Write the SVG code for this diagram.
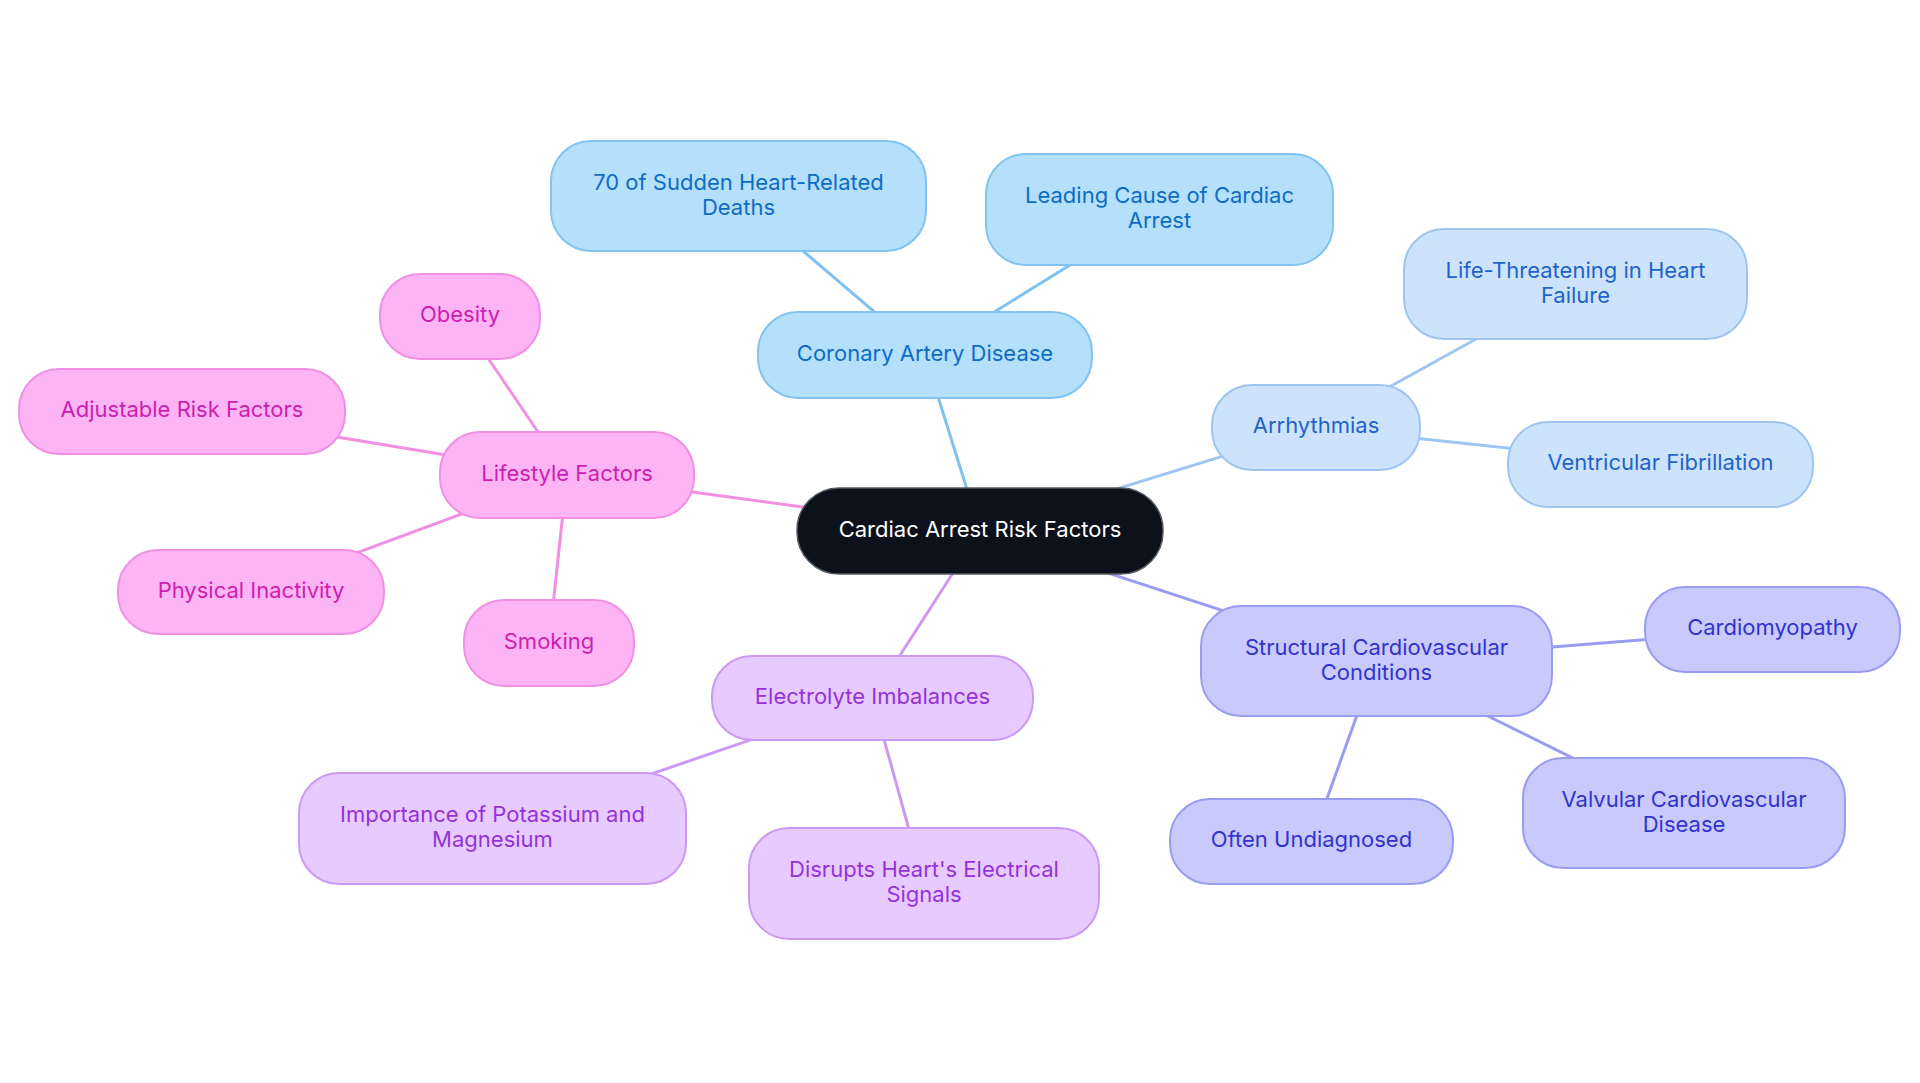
<svg xmlns="http://www.w3.org/2000/svg" width="1920" height="1083" viewBox="0 0 1920 1083">
<style>
text{font-family:Inter,"Noto Sans",sans-serif;font-size:22px;text-anchor:middle}
.e{stroke-width:3;fill:none}
.blue rect{fill:#b4e0fc;stroke:#82c3f0;stroke-width:2}
.blue text{fill:#0f6cc4}
.lblue rect{fill:#cde3fb;stroke:#9ec5f1;stroke-width:2}
.lblue text{fill:#1f63c9}
.indigo rect{fill:#c8cafc;stroke:#9a9cf2;stroke-width:2}
.indigo text{fill:#3333cc}
.violet rect{fill:#e7caff;stroke:#cc99f2;stroke-width:2}
.violet text{fill:#9333d9}
.pink rect{fill:#fdb4f4;stroke:#f090e2;stroke-width:2}
.pink text{fill:#cc1fb0}
.root rect{fill:#0c111b;stroke:#555a60;stroke-width:1.5}
.root text{fill:#ffffff}
</style>
<rect width="1920" height="1083" fill="#ffffff"/>
<g id="connectors">
<line class="e" stroke="#7fc1ef" x1="980" y1="531" x2="925" y2="355"/>
<line class="e" stroke="#7fc1ef" x1="925" y1="355" x2="738.5" y2="196"/>
<line class="e" stroke="#7fc1ef" x1="925" y1="355" x2="1159.5" y2="209.5"/>
<line class="e" stroke="#9ec5f1" x1="980" y1="531" x2="1316" y2="427.5"/>
<line class="e" stroke="#9ec5f1" x1="1316" y1="427.5" x2="1575.5" y2="284"/>
<line class="e" stroke="#9ec5f1" x1="1316" y1="427.5" x2="1660.5" y2="464.5"/>
<line class="e" stroke="#9a9cf2" x1="980" y1="531" x2="1376.5" y2="661"/>
<line class="e" stroke="#9a9cf2" x1="1376.5" y1="661" x2="1772.5" y2="629.5"/>
<line class="e" stroke="#9a9cf2" x1="1376.5" y1="661" x2="1684" y2="813"/>
<line class="e" stroke="#9a9cf2" x1="1376.5" y1="661" x2="1311.5" y2="841.5"/>
<line class="e" stroke="#cc99f2" x1="980" y1="531" x2="872.5" y2="698"/>
<line class="e" stroke="#cc99f2" x1="872.5" y1="698" x2="492.5" y2="828.5"/>
<line class="e" stroke="#cc99f2" x1="872.5" y1="698" x2="924" y2="883.5"/>
<line class="e" stroke="#f090e2" x1="980" y1="531" x2="567" y2="475"/>
<line class="e" stroke="#f090e2" x1="567" y1="475" x2="460" y2="316.5"/>
<line class="e" stroke="#f090e2" x1="567" y1="475" x2="182" y2="411.5"/>
<line class="e" stroke="#f090e2" x1="567" y1="475" x2="251" y2="592"/>
<line class="e" stroke="#f090e2" x1="567" y1="475" x2="549" y2="643"/>
</g>
<g id="root" class="root"><rect x="797" y="488" width="366" height="86" rx="42"/><text x="980" y="536.5">Cardiac Arrest Risk Factors</text></g>
<g id="cad" class="blue"><rect x="758" y="312" width="334" height="86" rx="40"/><text x="925" y="360.5">Coronary Artery Disease</text></g>
<g id="deaths" class="blue"><rect x="551" y="141" width="375" height="110" rx="40"/><text x="738.5" y="190">70 of Sudden Heart-Related</text><text x="738.5" y="215">Deaths</text></g>
<g id="leading" class="blue"><rect x="986" y="154" width="347" height="111" rx="40"/><text x="1159.5" y="202.5">Leading Cause of Cardiac</text><text x="1159.5" y="227.5">Arrest</text></g>
<g id="arr" class="lblue"><rect x="1212" y="385" width="208" height="85" rx="40"/><text x="1316" y="433">Arrhythmias</text></g>
<g id="lifethr" class="lblue"><rect x="1404" y="229" width="343" height="110" rx="40"/><text x="1575.5" y="278">Life-Threatening in Heart</text><text x="1575.5" y="303">Failure</text></g>
<g id="vf" class="lblue"><rect x="1508" y="422" width="305" height="85" rx="40"/><text x="1660.5" y="470">Ventricular Fibrillation</text></g>
<g id="struct" class="indigo"><rect x="1201" y="606" width="351" height="110" rx="40"/><text x="1376.5" y="655">Structural Cardiovascular</text><text x="1376.5" y="680">Conditions</text></g>
<g id="cardio" class="indigo"><rect x="1645" y="587" width="255" height="85" rx="40"/><text x="1772.5" y="635">Cardiomyopathy</text></g>
<g id="valv" class="indigo"><rect x="1523" y="758" width="322" height="110" rx="40"/><text x="1684" y="807">Valvular Cardiovascular</text><text x="1684" y="832">Disease</text></g>
<g id="often" class="indigo"><rect x="1170" y="799" width="283" height="85" rx="40"/><text x="1311.5" y="847">Often Undiagnosed</text></g>
<g id="elec" class="violet"><rect x="712" y="656" width="321" height="84" rx="40"/><text x="872.5" y="703.5">Electrolyte Imbalances</text></g>
<g id="potas" class="violet"><rect x="299" y="773" width="387" height="111" rx="40"/><text x="492.5" y="822">Importance of Potassium and</text><text x="492.5" y="847">Magnesium</text></g>
<g id="disrupt" class="violet"><rect x="749" y="828" width="350" height="111" rx="40"/><text x="924" y="877">Disrupts Heart's Electrical</text><text x="924" y="902">Signals</text></g>
<g id="life" class="pink"><rect x="440" y="432" width="254" height="86" rx="40"/><text x="567" y="480.5">Lifestyle Factors</text></g>
<g id="obesity" class="pink"><rect x="380" y="274" width="160" height="85" rx="40"/><text x="460" y="322">Obesity</text></g>
<g id="adjust" class="pink"><rect x="19" y="369" width="326" height="85" rx="40"/><text x="182" y="417">Adjustable Risk Factors</text></g>
<g id="phys" class="pink"><rect x="118" y="550" width="266" height="84" rx="40"/><text x="251" y="597.5">Physical Inactivity</text></g>
<g id="smoking" class="pink"><rect x="464" y="600" width="170" height="86" rx="40"/><text x="549" y="648.5">Smoking</text></g>
</svg>
